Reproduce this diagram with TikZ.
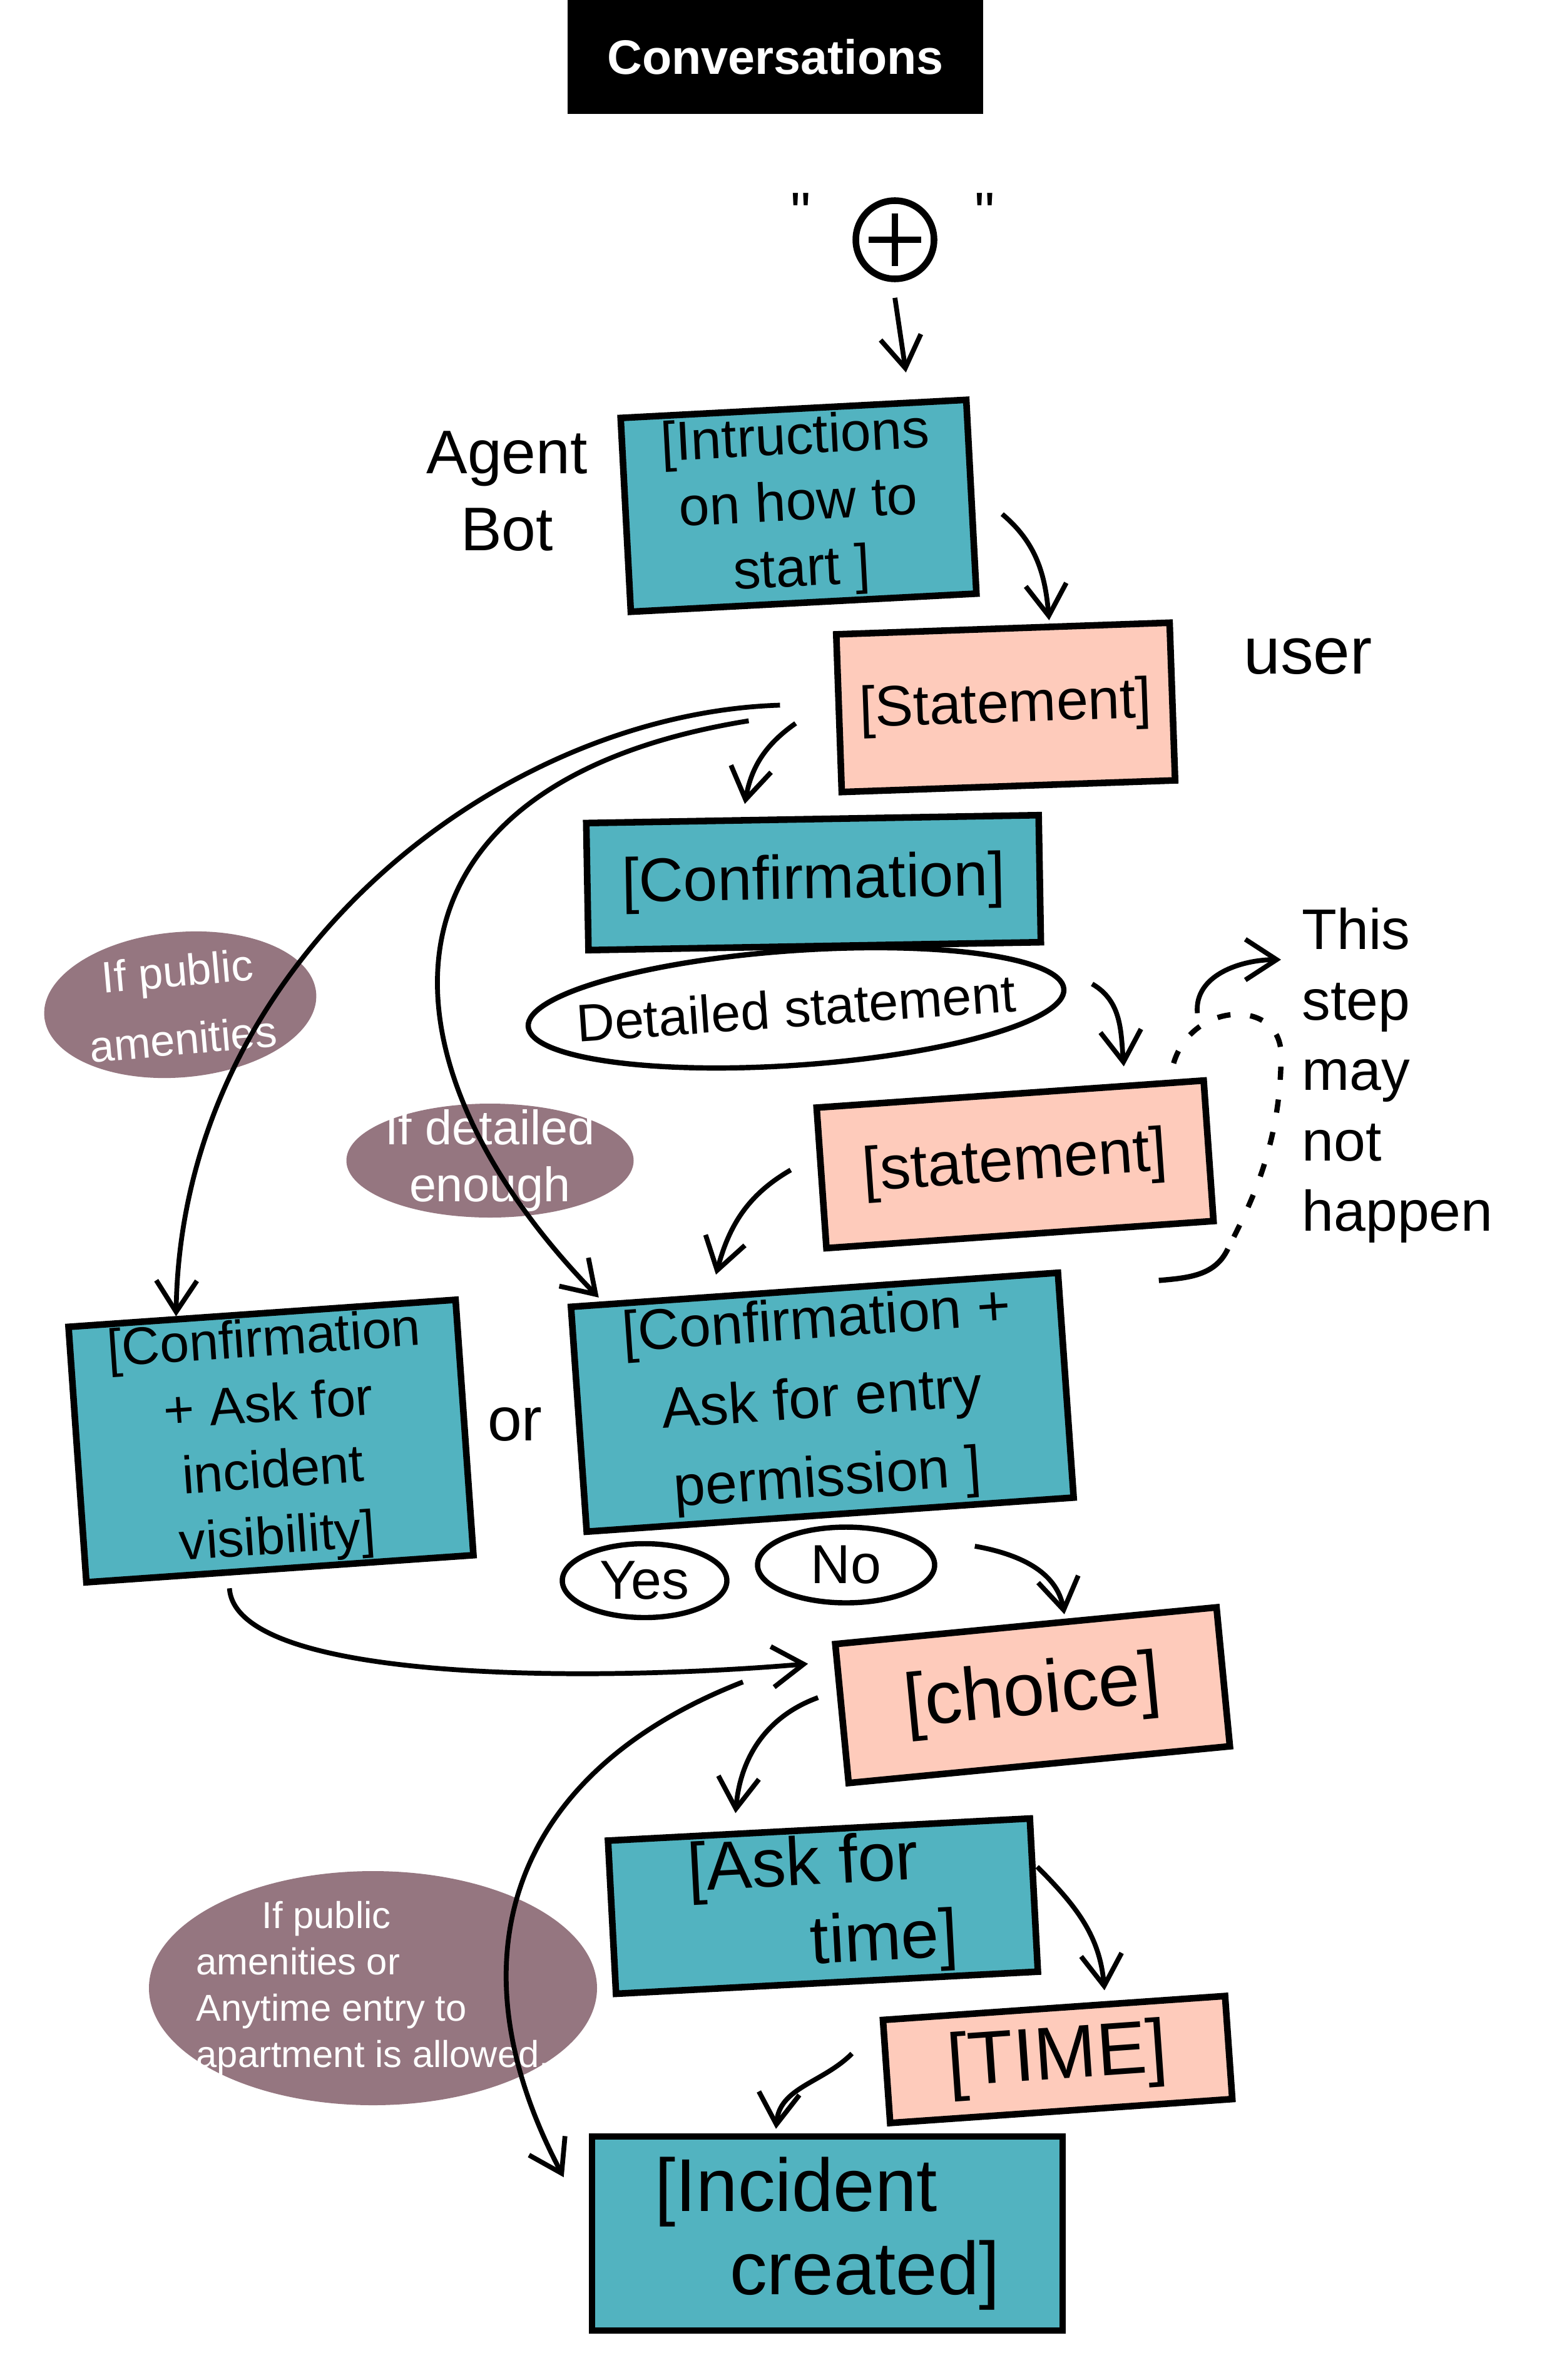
\documentclass[tikz,border=0pt]{standalone}
\usepackage{fontspec}
\setmainfont{Liberation Sans}
\usetikzlibrary{arrows.meta, shapes.geometric, positioning}

\definecolor{tealbox}{HTML}{52B3C0}
\definecolor{peachbox}{HTML}{FECBBB}
\definecolor{mauve}{HTML}{957680}
\newcommand{\fsz}[2]{\fontsize{#1}{#2}\selectfont}

\begin{document}
\begin{tikzpicture}[
	bot/.style={rectangle, draw, line width=3pt, fill=tealbox, align=center, inner sep=2pt},
	usr/.style={rectangle, draw, line width=3pt, fill=peachbox, align=center, inner sep=2pt},
	cond/.style={ellipse, fill=mauve, text=white, align=center, inner sep=-0.6cm},
	answer/.style={ellipse, draw, line width=2.4pt, fill=white, inner sep=-0.6cm},
	arr/.style={-{Straight Barb[length=5mm,width=6.5mm]}, line width=2.2pt},
	dashline/.style={line width=2.4pt, dash pattern=on 6pt off 9pt}]
	\useasboundingbox (0,0) rectangle (24.8,-38.02);

	\node[fill=black, text=white, font=\bfseries\fsz{22}{26}, minimum width=6.64cm, minimum height=1.82cm] (title) at (12.39,-0.91) {Conversations};

	% start
	\node[circle, draw, line width=3pt, minimum size=1.25cm] (plus) at (14.30,-3.83) {};
	\draw[line width=3pt] ([xshift=-0.42cm]plus.center) -- ([xshift=0.42cm]plus.center)
		([yshift=0.42cm]plus.center) -- ([yshift=-0.42cm]plus.center);
	\node[font=\fsz{26}{30}] (lq) at (12.80,-3.40) {\textquotedbl};
	\node[font=\fsz{26}{30}] (rq) at (15.74,-3.40) {\textquotedbl};

	% boxes
	\node[font=\fsz{28}{35}, align=center] (agentbot) at (8.10,-7.85) {Agent\\Bot};
	\node[bot, rotate=3, minimum width=5.53cm, minimum height=3.10cm, font=\fsz{25}{30}] (instr) at (12.76,-8.08) {[Intructions\\on how to\\start ]};
	\node[usr, rotate=2, minimum width=5.33cm, minimum height=2.52cm, font=\fsz{26}{30}] (stmt1) at (16.07,-11.30) {[Statement]};
	\node[font=\fsz{30}{32}] (user) at (20.90,-10.49) {user};
	\node[bot, rotate=1, minimum width=7.23cm, minimum height=2.03cm, font=\fsz{28}{30}] (confirm) at (13.00,-14.10) {[Confirmation]};
	\node[answer, rotate=4, minimum width=8.58cm, minimum height=1.83cm, font=\fsz{24}{26}] (detail) at (12.72,-16.10) {Detailed statement};
	\node[usr, rotate=4, minimum width=6.20cm, minimum height=2.25cm, font=\fsz{28}{30}] (stmt2) at (16.22,-18.60) {[statement]};
	\node[anchor=north west, align=left, inner sep=0pt, font=\fsz{26}{32}] (maynot) at (20.80,-14.50) {This\\step\\may\\not\\happen};

	\node[cond, rotate=5, minimum width=4.36cm, minimum height=2.32cm, font=\fsz{20}{31}] (amen) at (2.88,-16.05) {If public\\amenities};
	\node[cond, minimum width=4.59cm, minimum height=1.82cm, font=\fsz{22}{26}] (enough) at (7.83,-18.54) {If detailed\\enough};

	\node[bot, rotate=4, minimum width=6.20cm, minimum height=4.02cm, font=\fsz{24}{30}] (vis) at (4.33,-23.02) {[Confirmation\\+ Ask for\\incident\\visibility]};
	\node[font=\fsz{28}{30}] (or) at (8.23,-22.75) {or};
	\node[bot, rotate=4, minimum width=7.80cm, minimum height=3.60cm, font=\fsz{26}{36}] (entry) at (13.14,-22.40) {[Confirmation +\\Ask for entry\\permission ]};
	\node[answer, minimum width=2.63cm, minimum height=1.18cm, font=\fsz{25}{27}] (yes) at (10.30,-25.25) {Yes};
	\node[answer, minimum width=2.83cm, minimum height=1.21cm, font=\fsz{25}{27}] (no) at (13.52,-25.00) {No};

	\node[usr, rotate=5.5, minimum width=6.12cm, minimum height=2.23cm, font=\fsz{34}{36}] (choice) at (16.50,-27.08) {[choice]};
	\node[bot, rotate=3, minimum width=6.75cm, minimum height=2.45cm, align=left, font=\fsz{31}{36}] (asktime) at (13.15,-30.45) {[Ask for\\\hspace*{1.9cm}time]};
	\node[usr, rotate=4, minimum width=5.48cm, minimum height=1.65cm, font=\fsz{34}{36}] (time) at (16.90,-32.90) {[TIME]};
	\node[bot, minimum width=7.52cm, minimum height=3.10cm, align=left, font=\fsz{34}{38}] (incident) at (13.22,-35.68) {[Incident\\\hspace*{1.2cm}created]};
	\node[cond, minimum width=7.16cm, minimum height=3.74cm, align=left, font=\fsz{17}{21}] (allowed) at (5.96,-31.76) {\hspace*{1.05cm}If public\\amenities or\\Anytime entry to\\apartment is allowed.};

	% flow
	\draw[arr] ([yshift=-0.25cm]plus.south) -- ([xshift=1.80cm,yshift=0.53cm]instr.north);
	\draw[arr] ([xshift=0.44cm,yshift=-0.28cm]instr.east) to[out=-40,in=95] ([xshift=0.74cm,yshift=0.08cm]stmt1.north);
	\draw[arr] ([xshift=-0.64cm,yshift=-0.16cm]stmt1.west) to[out=215,in=80] ([xshift=-1.08cm,yshift=0.19cm]confirm.north);
	\draw[arr] ([xshift=0.41cm,yshift=0.08cm]detail.east) to[out=-30,in=95] ([xshift=1.82cm,yshift=0.39cm]stmt2.north);
	\draw[arr] ([xshift=-0.44cm,yshift=0.13cm]stmt2.west) to[out=210,in=75] ([xshift=-1.57cm,yshift=0.19cm]entry.north);
	\draw[arr] ([xshift=-0.89cm,yshift=0.13cm]stmt1.west) .. controls +(-4.52,-0.14) and +(0.08,5.65) .. ([xshift=-1.37cm,yshift=-0.10cm]vis.north);
	\draw[arr] ([xshift=-1.39cm,yshift=-0.12cm]stmt1.west) .. controls +(-6.2,-1.0) and +(-3.7,3.8) .. ([xshift=0.50cm,yshift=0.10cm]entry.north west);

	% optional step
	\coordinate (loopturn) at (20.47,-16.85);
	\coordinate (loopend) at (19.62,-19.95);
	\draw[dashline] ([xshift=-0.53cm,yshift=0.22cm]stmt2.north east) .. controls +(0.3,1.0) and +(0,0.9) .. (loopturn)
		.. controls +(0,-1.5) and +(0.3,0.6) .. (loopend);
	\draw[line width=2.4pt] (loopend) to[out=-115,in=5] ([xshift=-0.93cm,yshift=-0.90cm]stmt2.south east);
	\draw[arr] ([xshift=-0.15cm,yshift=1.02cm]stmt2.north east) to[out=95,in=180] ([xshift=-0.33cm,yshift=-0.83cm]maynot.north west);

	\draw[arr] ([xshift=-0.81cm,yshift=-0.26cm]vis.south) .. controls +(0.1,-1.5) and +(-3.5,-0.3) .. ([xshift=-0.49cm,yshift=0.80cm]choice.west);
	\draw[arr] ([xshift=0.6cm,yshift=0.3cm]no.east) to[out=-10,in=100] ([xshift=0.62cm,yshift=0.13cm]choice.north);
	\draw[arr] ([xshift=-0.33cm,yshift=0.26cm]choice.west) to[out=200,in=85] ([xshift=-1.33cm,yshift=0.21cm]asktime.north);
	\draw[arr] ([yshift=0.45cm]asktime.east) to[out=-45,in=95] ([xshift=0.81cm,yshift=0.23cm]time.north);
	\draw[arr] ([xshift=-0.50cm,yshift=0.29cm]time.west) to[out=225,in=85] ([xshift=-0.82cm,yshift=0.07cm]incident.north);
	\draw[arr] ([xshift=-1.53cm,yshift=0.51cm]choice.west) .. controls +(-3.6,-1.4) and +(-1.9,3.6) .. ([xshift=-0.40cm,yshift=0.90cm]incident.west);
\end{tikzpicture}
\end{document}
